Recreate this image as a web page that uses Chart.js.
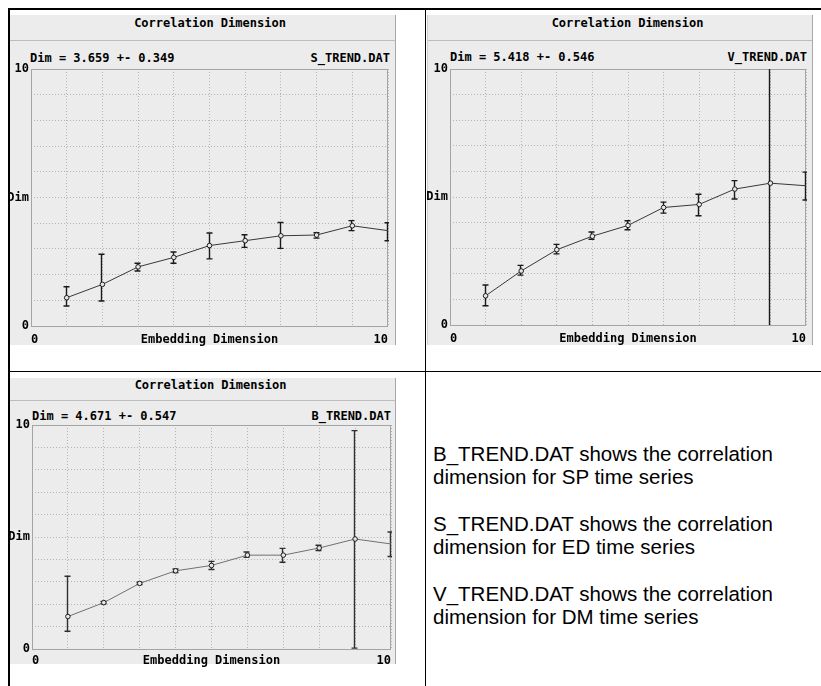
<!DOCTYPE html>
<html>
<head>
<meta charset="utf-8">
<script src="https://cdn.jsdelivr.net/npm/chart.js@4.4.1/dist/chart.umd.min.js"></script>
<style>
  html, body { margin: 0; padding: 0; background: #ffffff; overflow: hidden; }
  body { width: 821px; height: 686px; position: relative; }
  .rule { position: absolute; background: #000; }
  .panel { position: absolute; background: #ececec; }
  .titlebar { position: absolute; left: 0; top: 0; right: 0; border-bottom: 1px solid #bdbdbd;
              font: bold 12px "DejaVu Sans Mono", monospace; color: #000; text-align: center; box-sizing: border-box; }
  .info { position: absolute; font: bold 12px "DejaVu Sans Mono", monospace; color: #000; line-height: 14px; white-space: pre; }
  canvas { position: absolute; }
  .notes { position: absolute; left: 433px; top: 442px; width: 385px;
           font: 20.5px "Liberation Sans", Arial, sans-serif; line-height: 23.3px; color: #000; }
  .notes p { margin: 0 0 23.3px 0; }
</style>
</head>
<body>
<!-- table rules -->
<div class="rule" style="left:8px;top:8px;width:813px;height:2px;"></div>
<div class="rule" style="left:8px;top:8px;width:2px;height:700px;"></div>
<div class="rule" style="left:425px;top:8px;width:1px;height:700px;"></div>
<div class="rule" style="left:10px;top:371px;width:811px;height:1px;"></div>

<!-- S_TREND panel -->
<div class="panel" style="left:10px;top:15px;width:385px;height:330px;border-right:1px solid #a8a8a8;">
  <div class="titlebar" style="height:26px;line-height:17px;padding-left:15px;">Correlation Dimension</div>
  <div class="info" id="sInfoL" style="left:20px;top:36px;"></div>
  <div class="info" id="sInfoR" style="right:5px;top:36px;"></div>
</div>
<canvas id="sChart" width="385" height="306" style="left:10px;top:41px;width:385px;height:306px;"></canvas>

<!-- V_TREND panel -->
<div class="panel" style="left:427px;top:15px;width:386px;height:330px;border-left:1px solid #cfcfcf;border-right:1px solid #a8a8a8;box-sizing:border-box;">
  <div class="titlebar" style="height:26px;line-height:17px;padding-left:15px;">Correlation Dimension</div>
  <div class="info" id="vInfoL" style="left:22px;top:35px;"></div>
  <div class="info" id="vInfoR" style="right:5px;top:35px;"></div>
</div>
<canvas id="vChart" width="386" height="306" style="left:427px;top:41px;width:386px;height:306px;"></canvas>

<!-- B_TREND panel -->
<div class="panel" style="left:10px;top:378px;width:386px;height:286px;border-right:1px solid #a8a8a8;box-sizing:border-box;">
  <div class="titlebar" style="height:23px;line-height:15px;padding-left:16px;">Correlation Dimension</div>
  <div class="info" id="bInfoL" style="left:22px;top:31px;"></div>
  <div class="info" id="bInfoR" style="right:4px;top:31px;"></div>
</div>
<canvas id="bChart" width="386" height="268" style="left:10px;top:401px;width:386px;height:268px;"></canvas>

<div class="notes">
  <p>B_TREND.DAT shows the correlation<br>dimension for SP time series</p>
  <p>S_TREND.DAT shows the correlation<br>dimension for ED time series</p>
  <p>V_TREND.DAT shows the correlation<br>dimension for DM time series</p>
</div>

<script>
// Embedding dimensions (x) shared by all three series
const DIMS = [1, 2, 3, 4, 5, 6, 7, 8, 9, 10];

// S_TREND.DAT: correlation dimension with lower / upper error limits
const S_VALUES = [1.10, 1.62, 2.30, 2.67, 3.13, 3.32, 3.51, 3.54, 3.90, 3.71];
const S_LOW    = [0.78, 0.97, 2.14, 2.44, 2.61, 3.06, 3.02, 3.42, 3.71, 3.32];
const S_HIGH   = [1.53, 2.79, 2.44, 2.88, 3.62, 3.55, 4.03, 3.63, 4.10, 4.02];

// V_TREND.DAT
const V_VALUES = [1.14, 2.11, 2.94, 3.47, 3.89, 4.59, 4.71, 5.31, 5.54, 5.44];
const V_LOW    = [0.75, 1.95, 2.78, 3.35, 3.72, 4.37, 4.27, 4.92, 0.00, 4.88];
const V_HIGH   = [1.56, 2.33, 3.15, 3.63, 4.07, 4.80, 5.11, 5.64, 10.0, 5.97];

// B_TREND.DAT
const B_VALUES = [1.45, 2.07, 2.93, 3.49, 3.73, 4.19, 4.19, 4.51, 4.91, 4.69];
const B_LOW    = [0.79, 2.02, 2.88, 3.41, 3.55, 4.09, 3.87, 4.40, 0.04, 4.13];
const B_HIGH   = [3.25, 2.12, 2.98, 3.57, 3.91, 4.33, 4.49, 4.63, 9.75, 5.22];

// Summary estimates: [file name, dimension, uncertainty]
const S_SUMMARY = ['S_TREND.DAT', '3.659', '0.349'];
const V_SUMMARY = ['V_TREND.DAT', '5.418', '0.546'];
const B_SUMMARY = ['B_TREND.DAT', '4.671', '0.547'];

// Axis tick labels, indexed by tick value 0..10
const X_TICK_LABELS = ['0', '', '', '', '', 'Embedding Dimension', '', '', '', '', '10'];
const Y_TICK_LABELS = ['0', '', '', '', '', 'Dim', '', '', '', '', '10'];

const MONO = { family: '"DejaVu Sans Mono", monospace', size: 12, weight: 'bold' };

// Plot frame plus vertical error bars with end caps, drawn under the line and markers
const errorBars = {
  id: 'errorBars',
  beforeDatasetsDraw(chart, args, opts) {
    const { ctx, chartArea: a, scales: { x, y } } = chart;
    ctx.save();
    ctx.strokeStyle = '#a4a4a4';
    ctx.lineWidth = 1;
    ctx.strokeRect(Math.round(a.left) + 0.5, Math.round(a.top) + 0.5,
                   Math.round(a.width) - 1, Math.round(a.height));
    ctx.beginPath();
    ctx.rect(a.left, a.top - 1, a.width + 1, a.height + 2);
    ctx.clip();
    ctx.strokeStyle = opts.color;
    ctx.lineWidth = 1.4;
    DIMS.forEach((d, i) => {
      const px = Math.round(x.getPixelForValue(d)) - 0.5;
      const top = y.getPixelForValue(opts.high[i]);
      const bot = y.getPixelForValue(opts.low[i]);
      ctx.beginPath();
      ctx.moveTo(px, top); ctx.lineTo(px, bot);
      // caps are omitted where the bar runs off the plotted range
      if (opts.high[i] < y.max) { ctx.moveTo(px - 3, top); ctx.lineTo(px + 3, top); }
      if (opts.low[i] > y.min) { ctx.moveTo(px - 3, bot); ctx.lineTo(px + 3, bot); }
      ctx.stroke();
    });
    ctx.restore();
  }
};

function makeChart(id, values, low, high, g) {
  const last = DIMS.length - 1;
  return new Chart(document.getElementById(id), {
    type: 'line',
    data: {
      datasets: [{
        data: DIMS.map((d, i) => ({ x: d, y: values[i] })),
        borderColor: g.line,
        borderWidth: 1,
        tension: 0,
        clip: 0,
        pointRadius: c => (c.dataIndex === last ? 0 : 2.3),
        pointBorderWidth: 1,
        pointBorderColor: '#1e1e1e',
        pointBackgroundColor: '#e6e6e6'
      }]
    },
    options: {
      responsive: false,
      animation: false,
      events: [],
      layout: { padding: { top: g.top, right: g.right, left: 0, bottom: 0 } },
      plugins: {
        legend: { display: false },
        tooltip: { enabled: false },
        errorBars: { low, high, color: g.bar }
      },
      scales: {
        x: {
          type: 'linear', min: 0, max: 10,
          afterFit: s => { s.height = g.xh; },
          ticks: {
            stepSize: 1, autoSkip: false, maxRotation: 0, minRotation: 0,
            align: 'inner', padding: g.xpad, color: '#000', font: MONO,
            callback: v => X_TICK_LABELS[v] ?? ''
          },
          grid: { color: '#b4b4b4', lineWidth: 1, drawTicks: false },
          border: { display: false, dash: [1, 2] }
        },
        y: {
          type: 'linear', min: 0, max: 10,
          afterFit: s => { s.width = g.yw; },
          ticks: {
            stepSize: 1, autoSkip: false, padding: 2, color: '#000', font: MONO,
            callback: v => Y_TICK_LABELS[v] ?? ''
          },
          grid: { color: '#b4b4b4', lineWidth: 1, drawTicks: false },
          border: { display: false, dash: [1, 2] }
        }
      }
    },
    plugins: [errorBars]
  });
}

function fillInfo(prefix, summary) {
  document.getElementById(prefix + 'InfoL').textContent = 'Dim = ' + summary[1] + ' +- ' + summary[2];
  document.getElementById(prefix + 'InfoR').textContent = summary[0];
}
fillInfo('s', S_SUMMARY);
fillInfo('v', V_SUMMARY);
fillInfo('b', B_SUMMARY);

makeChart('sChart', S_VALUES, S_LOW, S_HIGH, { top: 28, right: 4, yw: 21, xh: 21, xpad: 7, line: '#383838', bar: '#1a1a1a' });
makeChart('vChart', V_VALUES, V_LOW, V_HIGH, { top: 28, right: 5, yw: 23, xh: 22, xpad: 7, line: '#383838', bar: '#1a1a1a' });
makeChart('bChart', B_VALUES, B_LOW, B_HIGH, { top: 24, right: 3, yw: 22, xh: 20, xpad: 5, line: '#707070', bar: '#303030' });
</script>
</body>
</html>
